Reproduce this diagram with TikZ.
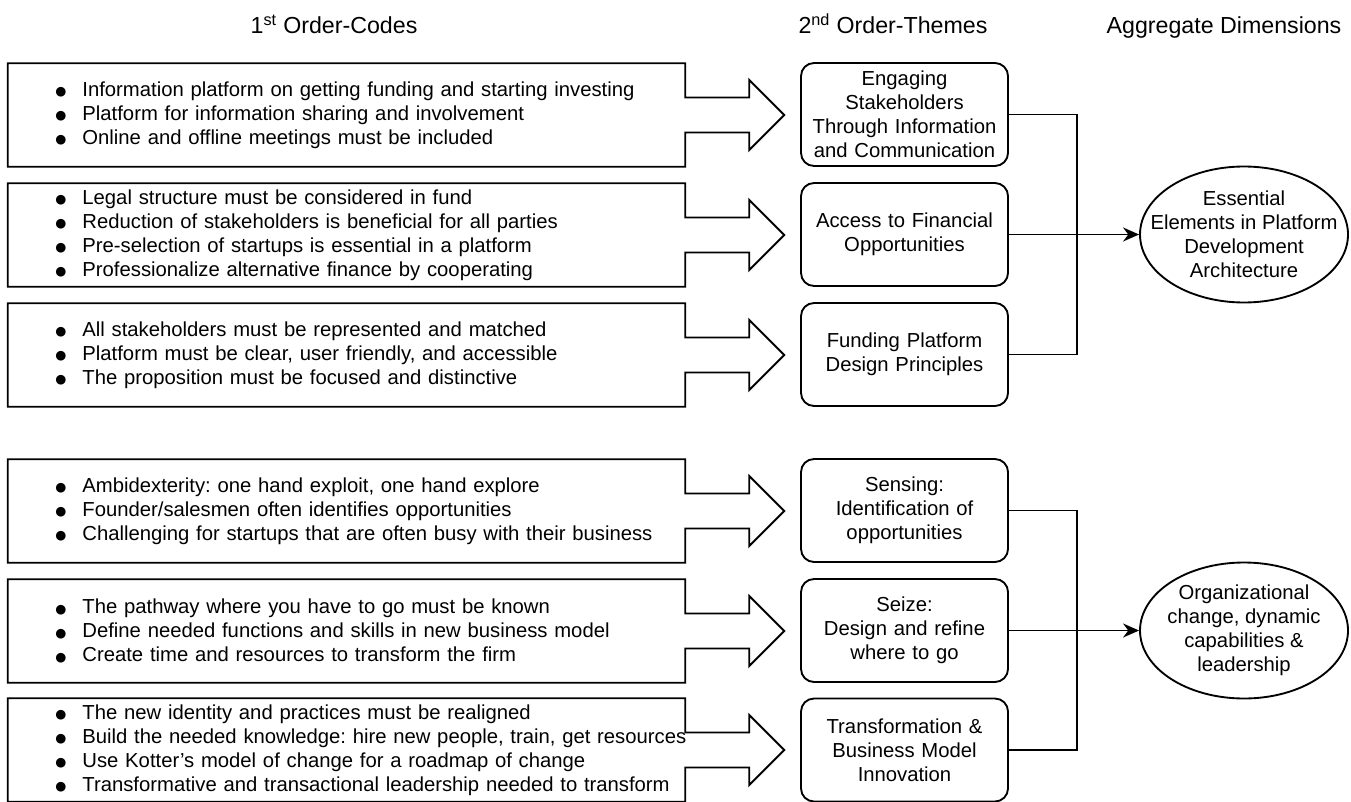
\documentclass[tikz,border=0pt]{standalone}
\usepackage{fontspec}
\setmainfont{Liberation Sans}
\newfontfamily\dotfont{DejaVu Sans}
\usepackage{tikz}
\usetikzlibrary{positioning, arrows.meta, shapes.geometric, calc}

\frenchspacing
\newcommand{\bodyfont}{\fontsize{15.2pt}{18pt}\selectfont}
\newcommand{\headfont}{\fontsize{17.4pt}{20pt}\selectfont}
\newcommand{\bitem}[1]{\mbox{\makebox[8pt][c]{\raisebox{0.6pt}{\dotfont\fontsize{9.5pt}{9.5pt}\selectfont ●}}\hspace{12.2pt}#1}}

\tikzset{
    codebox/.style={rectangle, minimum width=507.75pt, minimum height=77.25pt,
        text width=436.5pt, inner xsep=35.6pt, inner ysep=0pt, align=left, font=\bodyfont},
    themebox/.style={draw, line width=1.4pt, rounded corners=9.75pt, minimum width=155.25pt,
        minimum height=77.25pt, text width=152pt, inner sep=0pt, align=center, font=\bodyfont},
    dimnode/.style={draw, line width=1.4pt, ellipse, minimum width=156pt, minimum height=102pt,
        inner xsep=-20pt, inner ysep=-10pt, align=center, font=\bodyfont},
    heading/.style={anchor=base, font=\headfont},
    outline/.style={line width=1.4pt},
    link/.style={line width=1.4pt},
}

\begin{document}
\begin{tikzpicture}[x=0.75pt, y=-0.75pt]
    \useasboundingbox (0,0) rectangle (1351,802);

    % column headings
    \node[heading] (h1) at (334,34) {1\textsuperscript{st} Order-Codes};
    \node[heading] (h2) at (893,34) {2\textsuperscript{nd} Order-Themes};
    \node[heading] (h3) at (1224,34) {Aggregate Dimensions};

    % 1st order codes
    \node[codebox] (c1) at (346.5,115) {\bitem{Information platform on getting funding and starting investing}\\
        \bitem{Platform for information sharing and involvement}\\
        \bitem{Online and offline meetings must be included}};
    \node[codebox] (c2) at (346.5,235) {\bitem{Legal structure must be considered in fund}\\
        \bitem{Reduction of stakeholders is beneficial for all parties}\\
        \bitem{Pre-selection of startups is essential in a platform}\\
        \bitem{Professionalize alternative finance by cooperating}};
    \node[codebox] (c3) at (346.5,355) {\bitem{All stakeholders must be represented and matched}\\
        \bitem{Platform must be clear, user friendly, and accessible}\\
        \bitem{The proposition must be focused and distinctive}};
    \node[codebox] (c4) at (346.5,511) {\bitem{Ambidexterity: one hand exploit, one hand explore}\\
        \bitem{Founder/salesmen often identifies opportunities}\\
        \bitem{Challenging for startups that are often busy with their business}};
    \node[codebox] (c5) at (346.5,631) {\bitem{The pathway where you have to go must be known}\\
        \bitem{Define needed functions and skills in new business model}\\
        \bitem{Create time and resources to transform the firm}};
    \node[codebox] (c6) at (346.5,750) {\bitem{The new identity and practices must be realigned}\\
        \bitem{Build the needed knowledge: hire new people, train, get resources}\\
        \bitem{Use Kotter's model of change for a roadmap of change}\\
        \bitem{Transformative and transactional leadership needed to transform}};

    % box with block arrow around each code list
    \foreach \i in {1,...,6}
    {
        \draw[outline] ($(c\i.east)+(0,-17.5)$) -- (c\i.north east) -- (c\i.north west)
            -- (c\i.south west) -- (c\i.south east) -- ($(c\i.east)+(0,17.5)$)
            -- ++(64,0) -- ++(0,17.5) -- ++(35,-35) -- ++(-35,-35) -- ++(0,17.5) -- cycle;
    }

    % 2nd order themes
    \node[themebox] (t1) at (904.5,114.5) {Engaging\\Stakeholders\\Through Information\\and Communication};
    \node[themebox] (t2) at (904.5,234.5) {Access to Financial\\Opportunities};
    \node[themebox] (t3) at (904.5,354.5) {Funding Platform\\Design Principles};
    \node[themebox] (t4) at (904.5,510.5) {Sensing:\\Identification of\\opportunities};
    \node[themebox] (t5) at (904.5,630.5) {Seize:\\Design and refine\\where to go};
    \node[themebox] (t6) at (904.5,750) {Transformation \&\\Business Model\\Innovation};

    % aggregate dimensions
    \node[dimnode] (d1) at (1244,234.5) {Essential\\Elements in Platform\\Development\\Architecture};
    \node[dimnode] (d2) at (1244,630.5) {Organizational\\change, dynamic\\capabilities \&\\leadership};

    % connectors
    \coordinate (bus) at (1077,0);
    \foreach \a/\m/\b/\d in {t1/t2/t3/d1, t4/t5/t6/d2}
    {
        \draw[link] (\a.east) -| (\b.east -| bus) -- (\b.east);
        \draw[link, -{Stealth[length=12pt, width=10.5pt]}] (\m.east) -- (\d.west);
    }
\end{tikzpicture}
\end{document}
